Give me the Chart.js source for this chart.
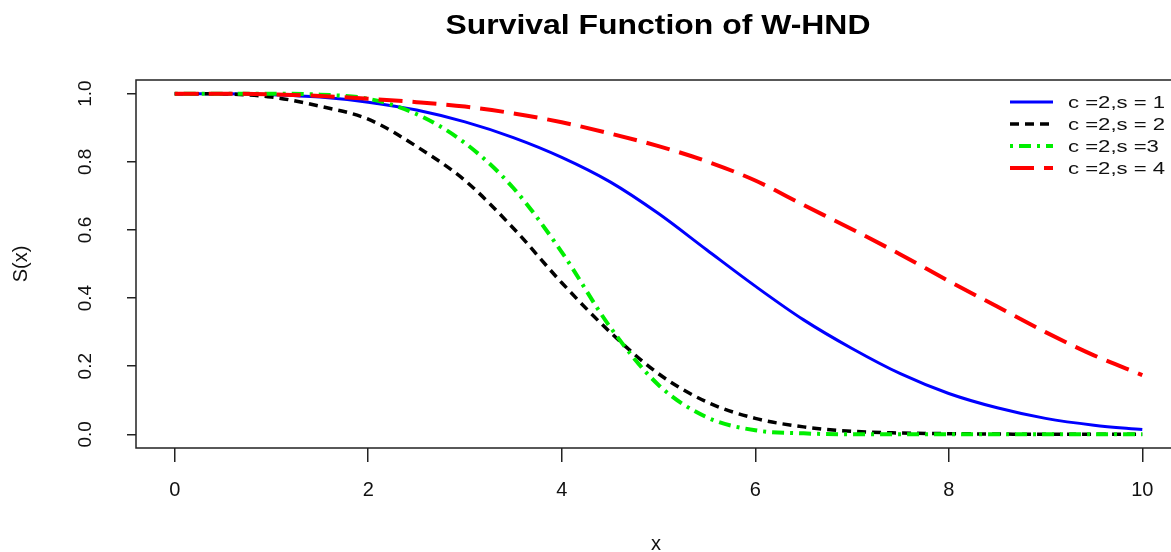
<!DOCTYPE html>
<html>
<head>
<meta charset="utf-8">
<script src="https://cdn.jsdelivr.net/npm/chart.js@4.4.1/dist/chart.umd.min.js"></script>
<style>
  html, body { margin: 0; padding: 0; background: #fff; overflow: hidden; }
  #wrap { width: 1190px; height: 552px; }
</style>
</head>
<body>
<div id="wrap"><canvas id="chart" width="1190" height="552"></canvas></div>
<script>
// values
const xValues = [0, 0.5, 1, 1.5, 2, 2.5, 3, 3.5, 4, 4.5, 5, 5.5, 6, 6.5, 7, 7.5, 8, 8.5, 9, 9.5, 10];
const survS1 = [1, 1, 0.997, 0.99, 0.975, 0.952, 0.917, 0.871, 0.813, 0.741, 0.648, 0.541, 0.435, 0.336, 0.252, 0.178, 0.12, 0.078, 0.047, 0.027, 0.014];
const survS2 = [1, 0.999, 0.99, 0.963, 0.925, 0.845, 0.745, 0.605, 0.445, 0.3, 0.178, 0.095, 0.047, 0.022, 0.009, 0.004, 0.002, 0.001, 0, 0, 0];
const survS3 = [1, 1, 1, 0.997, 0.985, 0.94, 0.855, 0.723, 0.535, 0.315, 0.145, 0.05, 0.012, 0.003, 0, 0, 0, 0, 0, 0, 0];
const survS4 = [1, 1, 0.998, 0.993, 0.985, 0.975, 0.962, 0.942, 0.916, 0.883, 0.846, 0.801, 0.745, 0.673, 0.602, 0.528, 0.45, 0.375, 0.3, 0.232, 0.174];
const xTicks = [0, 2, 4, 6, 8, 10];
const yTicks = [0, 0.2, 0.4, 0.6, 0.8, 1.0];
const seriesLabels = ['c =2,s = 1', 'c =2,s = 2', 'c =2,s =3', 'c =2,s = 4'];

const colors = ['#0000ff', '#000000', '#00ee00', '#ff0000'];
const dashes = [[], [9, 6], [3, 6, 12, 6], [24, 10]];
const widths = [3, 3.5, 4, 4];

function toPoints(ys) {
    return xValues.map((x, i) => ({ x: x, y: ys[i] }));
}

const allSeries = [survS1, survS2, survS3, survS4];
const datasets = allSeries.map((ys, i) => ({
    label: seriesLabels[i],
    data: toPoints(ys),
    borderColor: colors[i],
    borderWidth: widths[i],
    borderDash: dashes[i],
    pointRadius: 0,
    fill: false,
    cubicInterpolationMode: 'monotone',
    order: 4 - i // red drawn last, like the R plot
}));

const FONT = '"Liberation Sans", Arial, sans-serif';

// draw text with a horizontal stretch (the reference text is wide)
function drawText(ctx, text, x, y, font, sx, align) {
    ctx.save();
    ctx.translate(x, y);
    ctx.scale(sx, 1);
    ctx.font = font;
    ctx.textAlign = align || 'center';
    ctx.textBaseline = 'middle';
    ctx.fillText(text, 0, 0);
    ctx.restore();
}

// R-style decorations: box, rotated y labels, titles, legend
const rStyle = {
    id: 'rStyle',
    afterDraw(chart) {
        const ctx = chart.ctx;
        const area = chart.chartArea;
        const yScale = chart.scales.y;

        ctx.save();
        ctx.strokeStyle = '#222';
        ctx.lineWidth = 1.5;
        ctx.strokeRect(area.left, area.top, area.right - area.left, area.bottom - area.top);

        ctx.fillStyle = '#111';
        // y tick labels, rotated like R
        yTicks.forEach(v => {
            const py = yScale.getPixelForValue(v);
            ctx.save();
            ctx.translate(86, py);
            ctx.rotate(-Math.PI / 2);
            ctx.font = '19px ' + FONT;
            ctx.textAlign = 'center';
            ctx.textBaseline = 'middle';
            ctx.fillText(v.toFixed(1), 0, 0);
            ctx.restore();
        });

        // axis titles
        ctx.save();
        ctx.translate(21, (area.top + area.bottom) / 2);
        ctx.rotate(-Math.PI / 2);
        ctx.font = '20px ' + FONT;
        ctx.textAlign = 'center';
        ctx.textBaseline = 'middle';
        ctx.fillText('S(x)', 0, 0);
        ctx.restore();
        drawText(ctx, 'x', 656, 544, '20px ' + FONT, 1, 'center');

        // main title
        ctx.fillStyle = '#000';
        drawText(ctx, 'Survival Function of W-HND', 658, 26, 'bold 28px ' + FONT, 1.14, 'center');

        // legend, no box
        const rowsY = [102, 124, 146, 168];
        seriesLabels.forEach((lab, i) => {
            ctx.save();
            ctx.strokeStyle = colors[i];
            ctx.lineWidth = widths[i];
            ctx.setLineDash(dashes[i]);
            ctx.beginPath();
            ctx.moveTo(1010, rowsY[i]);
            ctx.lineTo(1053, rowsY[i]);
            ctx.stroke();
            ctx.restore();
            ctx.fillStyle = '#111';
            drawText(ctx, lab, 1068, rowsY[i] + 1, '17px ' + FONT, 1.3, 'left');
        });
        ctx.restore();
    }
};

new Chart(document.getElementById('chart'), {
    type: 'line',
    data: { datasets: datasets },
    options: {
        responsive: false,
        animation: false,
        layout: { padding: { top: 80, right: 9, left: 0, bottom: 0 } },
        plugins: {
            legend: { display: false },
            tooltip: { enabled: false },
            title: { display: false }
        },
        scales: {
            x: {
                type: 'linear',
                min: -0.4,
                max: 10.4,
                afterBuildTicks: s => { s.ticks = xTicks.map(v => ({ value: v })); },
                afterFit: s => { s.height = 104; },
                grid: { drawOnChartArea: false, drawTicks: true, tickLength: 14, color: '#222', lineWidth: 1.5 },
                border: { display: false },
                ticks: { padding: 16, color: '#111', font: { size: 20, family: FONT }, maxRotation: 0 }
            },
            y: {
                type: 'linear',
                min: -0.04,
                max: 1.04,
                afterBuildTicks: s => { s.ticks = yTicks.map(v => ({ value: v })); },
                afterFit: s => { s.width = 136; },
                grid: { drawOnChartArea: false, drawTicks: true, tickLength: 9, color: '#222', lineWidth: 1.5 },
                border: { display: false },
                ticks: { display: false }
            }
        }
    },
    plugins: [rStyle]
});
</script>
</body>
</html>
